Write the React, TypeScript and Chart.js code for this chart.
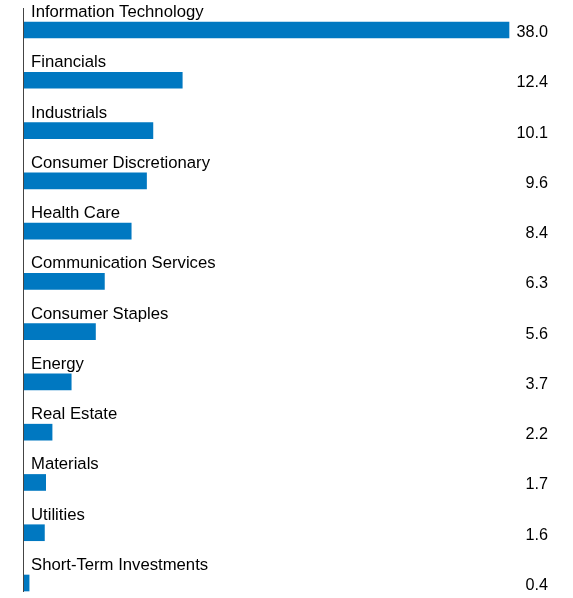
import React, { useEffect, useRef } from "react";
import { Chart, registerables } from "chart.js";

Chart.register(...registerables);

const categories = [
  "Information Technology",
  "Financials",
  "Industrials",
  "Consumer Discretionary",
  "Health Care",
  "Communication Services",
  "Consumer Staples",
  "Energy",
  "Real Estate",
  "Materials",
  "Utilities",
  "Short-Term Investments",
];
const values = [38.0, 12.4, 10.1, 9.6, 8.4, 6.3, 5.6, 3.7, 2.2, 1.7, 1.6, 0.4];
const valueLabels = values.map((v) => v.toFixed(1));

const FONT = "Arial, 'Liberation Sans', sans-serif";

const labelPlugin = {
  id: "labelPlugin",
  afterDatasetsDraw(chart: any) {
    const ctx = chart.ctx;
    const meta = chart.getDatasetMeta(0);
    ctx.save();
    ctx.strokeStyle = "#444";
    ctx.lineWidth = 1;
    ctx.beginPath();
    ctx.moveTo(23.5, 8);
    ctx.lineTo(23.5, 592);
    ctx.stroke();
    ctx.fillStyle = "#000";
    meta.data.forEach((bar: any, i: number) => {
      const y = bar.y;
      ctx.font = `16.7px ${FONT}`;
      ctx.textAlign = "left";
      ctx.textBaseline = "alphabetic";
      ctx.fillText(categories[i], 31, y - 13);
      ctx.font = `16.2px ${FONT}`;
      ctx.textAlign = "right";
      ctx.fillText(valueLabels[i], 548, y + 7);
    });
    ctx.restore();
  },
};

export default function App() {
  const ref = useRef<HTMLCanvasElement>(null);
  useEffect(() => {
    if (!ref.current) return;
    const chart = new Chart(ref.current, {
      type: "bar",
      data: {
        labels: categories,
        datasets: [
          {
            data: values,
            backgroundColor: "#0078C1",
            borderWidth: 0,
            barThickness: 16,
            clip: false as any,
          },
        ],
      },
      options: {
        indexAxis: "y",
        animation: false,
        responsive: false,
        maintainAspectRatio: false,
        layout: { padding: { left: 24, right: 64, top: 30, bottom: 15 } },
        plugins: { legend: { display: false }, tooltip: { enabled: false } },
        scales: {
          x: { display: false, min: 0, max: 38 },
          y: { display: false, offset: false },
        },
      },
      plugins: [labelPlugin],
    });
    return () => chart.destroy();
  }, []);
  return (
    <div style={{ position: "fixed", left: 0, top: 0, width: 573, height: 598 }}>
      <canvas ref={ref} width={573} height={598} />
    </div>
  );
}
